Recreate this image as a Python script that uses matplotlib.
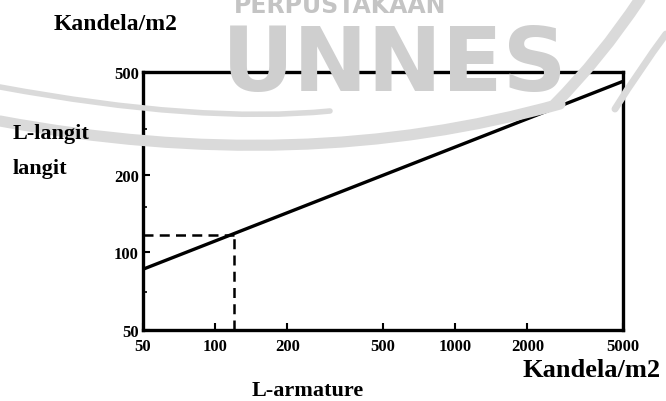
import matplotlib
matplotlib.use("Agg")
import matplotlib.pyplot as plt
from matplotlib.ticker import FixedLocator, NullFormatter, NullLocator
from matplotlib.path import Path
from matplotlib.patches import PathPatch

# data
x_line = [50, 5000]
y_line = [86, 460]
x_ref = 120
y_ref = 117
x_ticks = [50, 100, 200, 500, 1000, 2000, 5000]
x_tick_labels = ["50", "100", "200", "500", "1000", "2000", "5000"]
y_ticks = [50, 100, 200, 500]
y_tick_labels = ["50", "100", "200", "500"]

W, H = 666, 402
fig = plt.figure(figsize=(6.66, 4.02), dpi=100)
serif = ["Liberation Serif", "DejaVu Serif"]


def fp(x, y):
    return (x / W, 1 - y / H)


# watermark (swoosh + text)
wm = "#dadada"
curves = [
    ([fp(0, 122), fp(300, 178), fp(560, 105)], 8),
    ([fp(0, 88), fp(200, 125), fp(330, 112)], 4),
    ([fp(555, 105), fp(600, 60), fp(640, 0)], 8),
    ([fp(615, 110), fp(640, 70), fp(666, 35)], 5),
]
for pts, lw in curves:
    p = Path(pts, [Path.MOVETO, Path.CURVE3, Path.CURVE3])
    fig.patches.append(PathPatch(p, transform=fig.transFigure, fill=False,
                                 edgecolor=wm, lw=lw, capstyle="round", zorder=0))
fig.text(0.51, 0.985, "PERPUSTAKAAN", ha="center", va="center", fontsize=17,
         fontweight="bold", color="#c4c4c4", family="DejaVu Sans", zorder=0)
fig.text(0.593, 0.835, "UNNES", ha="center", va="center", fontsize=64,
         fontweight="bold", color="#cfcfcf", family="DejaVu Sans", zorder=0)

ax = fig.add_axes([0.2147, 0.1766, 0.7207, 0.6418])
ax.set_facecolor("none")
ax.set_xscale("log")
ax.set_yscale("log")
ax.set_xlim(50, 5000)
ax.set_ylim(50, 500)

ax.plot(x_line, y_line, color="black", lw=2.4, solid_capstyle="butt")
ax.plot([50, x_ref], [y_ref, y_ref], color="black", lw=1.8, ls=(0, (4, 2.5)))
ax.plot([x_ref, x_ref], [50, y_ref], color="black", lw=1.8, ls=(0, (4, 2.5)))

ax.xaxis.set_major_locator(FixedLocator(x_ticks))
ax.set_xticklabels(x_tick_labels)
ax.yaxis.set_major_locator(FixedLocator(y_ticks))
ax.set_yticklabels(y_tick_labels)
ax.xaxis.set_minor_locator(NullLocator())
ax.yaxis.set_minor_locator(FixedLocator([70, 150, 300]))
ax.yaxis.set_minor_formatter(NullFormatter())
ax.tick_params(axis="both", which="major", direction="in", length=5, width=1.5,
               labelsize=12)
ax.tick_params(axis="x", which="major", pad=6)
ax.tick_params(axis="y", which="major", pad=3)
ax.tick_params(axis="y", which="minor", direction="in", length=3, width=1.2)
for lab in ax.get_xticklabels() + ax.get_yticklabels():
    lab.set_family(serif)
    lab.set_fontweight("bold")
for s in ax.spines.values():
    s.set_linewidth(2.4)

fig.text(0.08, 0.938, "Kandela/m2", fontsize=17, fontweight="bold", family=serif,
         ha="left", va="center")
fig.text(0.0195, 0.623, "L-langit\nlangit", fontsize=16, fontweight="bold",
         family=serif, ha="left", va="center", linespacing=1.95)
fig.text(0.378, 0.027, "L-armature", fontsize=16, fontweight="bold", family=serif,
         ha="left", va="center")
fig.text(0.785, 0.078, "Kandela/m2", fontsize=19, fontweight="bold", family=serif,
         ha="left", va="center")

fig.savefig("out.png", dpi=100)
